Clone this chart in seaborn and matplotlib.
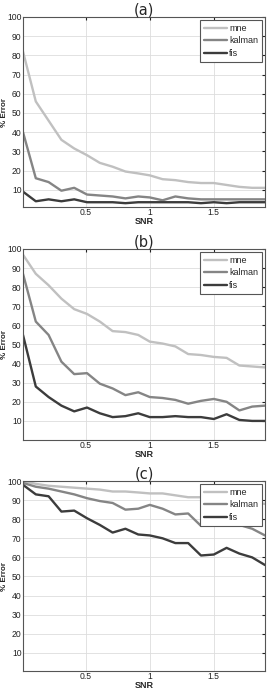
import numpy as np
import pandas as pd
import matplotlib
matplotlib.use("Agg")
import matplotlib.pyplot as plt
import seaborn as sns

snr = [0.01, 0.11, 0.21, 0.31, 0.41, 0.51, 0.61, 0.71, 0.81, 0.91,
       1.00, 1.10, 1.20, 1.30, 1.40, 1.50, 1.60, 1.70, 1.80, 1.90]

a_mne = [82, 56, 46, 36, 31.5, 28, 24, 22, 19.5, 18.5, 17.5, 15.5, 15, 14, 13.5, 13.5, 12.5, 11.5, 11, 11]
a_kalman = [40, 16, 14, 9.5, 11, 7.5, 7, 6.5, 5.5, 6.5, 6, 4.5, 6.5, 5.5, 5, 5, 5, 5, 5, 5]
a_fis = [9, 4, 5, 4, 5, 3.5, 3.5, 3.5, 3, 3.5, 3.5, 3.5, 3.5, 3.5, 3, 3.5, 3, 3.5, 3.5, 3.5]

b_mne = [97, 87, 81, 74, 68.5, 66, 62, 57, 56.5, 55, 51.5, 50.5, 49, 45, 44.5, 43.5, 43, 39, 38.5, 38]
b_kalman = [87, 62, 55, 41, 34.5, 35, 29.5, 27, 23.5, 25, 22.5, 22, 21, 19, 20.5, 21.5, 20, 15.5, 17.5, 18]
b_fis = [55, 28, 22.5, 18, 15, 17, 14, 12, 12.5, 14, 12, 12, 12.5, 12, 12, 11, 13.5, 10.5, 10, 10]

c_mne = [100, 98.5, 97.5, 97, 96.5, 96, 95.5, 94.5, 94.5, 94, 93.5, 93.5, 92.5, 91.5, 91.5, 91, 90.5, 90, 89, 88]
c_kalman = [99, 97, 96, 94.5, 93, 91, 89.5, 88.5, 85, 85.5, 87.5, 85.5, 82.5, 83, 76.5, 77.5, 80, 77, 75, 71.5]
c_fis = [98, 93, 92, 84, 84.5, 80.5, 77, 73, 75, 72, 71.5, 70, 67.5, 67.5, 61, 61.5, 65, 62, 60, 56]

series_names = ["mne", "kalman", "fis"]
panel_titles = ["(a)", "(b)", "(c)"]
x_ticks = [0.5, 1, 1.5]
y_ticks = [10, 20, 30, 40, 50, 60, 70, 80, 90, 100]
panels = [(a_mne, a_kalman, a_fis), (b_mne, b_kalman, b_fis), (c_mne, c_kalman, c_fis)]
ylims = [(1, 100), (0, 100), (0.5, 100)]

sns.set_style("whitegrid")
plt.rcParams['font.family'] = ['Liberation Sans', 'DejaVu Sans']

palette = {"mne": "#c0c0c0", "kalman": "#858585", "fis": "#3c3c3c"}

fig = plt.figure(figsize=(2.68, 6.91), dpi=100)
boxes = [(0.0858, 0.7004, 0.9030, 0.2750),
         (0.0858, 0.3632, 0.9030, 0.2765),
         (0.0858, 0.0289, 0.9030, 0.2750)]

for i, (vals, box) in enumerate(zip(panels, boxes)):
    ax = fig.add_axes(box)
    df = pd.DataFrame({
        "SNR": snr * 3,
        "err": list(vals[0]) + list(vals[1]) + list(vals[2]),
        "method": sum([[n] * len(snr) for n in series_names], []),
    })
    sns.lineplot(data=df, x="SNR", y="err", hue="method", hue_order=series_names,
                 palette=palette, linewidth=1.7, ax=ax, legend=True)
    ax.set_xlim(0.01, 1.9)
    ax.set_ylim(*ylims[i])
    ax.set_xticks(x_ticks)
    ax.set_xticklabels(["0.5", "1", "1.5"])
    ax.set_yticks(y_ticks)
    ax.tick_params(axis="both", labelsize=6.2, direction="in", length=2, pad=1.0,
                   colors="#222222", top=True, right=True)
    ax.grid(True, color="#dddddd", linewidth=0.6)
    for s in ax.spines.values():
        s.set_color("#555555")
        s.set_linewidth(0.8)
    ax.set_xlabel("SNR", fontsize=6.5, fontweight="bold", labelpad=0)
    ax.set_ylabel("% Error", fontsize=5.8, fontweight="bold")
    ax.yaxis.set_label_coords(-0.060, 0.5)
    ax.set_title(panel_titles[i], fontsize=10.5, family="DejaVu Sans", pad=1.5)
    leg = ax.legend(loc="upper right", fontsize=6.5, frameon=True, fancybox=False,
                    borderpad=0.45, labelspacing=0.4, handlelength=2.6, handletextpad=0.2,
                    borderaxespad=0.3)
    leg.get_frame().set_edgecolor("#555555")
    leg.get_frame().set_linewidth(0.8)
    leg.get_frame().set_alpha(1)

fig.savefig("out.png", dpi=100)
